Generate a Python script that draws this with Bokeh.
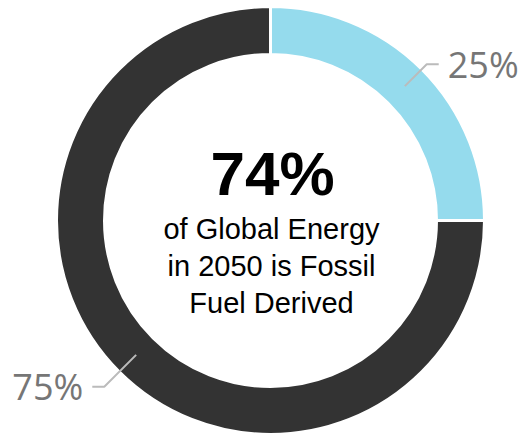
import math
from bokeh.plotting import figure
from bokeh.models import Range1d, ColumnDataSource
from bokeh.core.properties import value
from bokeh.embed import file_html
from bokeh.resources import INLINE

# ---- data ----
categories = ["Non-fossil", "Fossil"]
shares = [25, 75]
slice_labels = ["25%", "75%"]
slice_colors = ["#95DBED", "#333333"]
headline = "74%"
caption_lines = ["of Global Energy", "in 2050 is Fossil", "Fuel Derived"]

# ---- layout constants ----
W, H = 523, 436
CX, CY = 270, 436 - 220
R_OUT, R_IN = 214, 166

p = figure(width=W, height=H, output_backend="svg", toolbar_location=None,
           x_range=Range1d(0, W), y_range=Range1d(0, H), min_border=0)
p.axis.visible = False
p.xgrid.visible = False
p.ygrid.visible = False
p.outline_line_color = None
p.background_fill_color = "white"

# slices start at 12 o'clock, clockwise
total = sum(shares)
starts, ends, mids = [], [], []
a = math.pi / 2
for s in shares:
    sweep = 2 * math.pi * s / total
    starts.append(a)
    ends.append(a - sweep)
    mids.append(a - sweep / 2)
    a -= sweep

src = ColumnDataSource(dict(x=[CX] * len(shares), y=[CY] * len(shares),
                            start=starts, end=ends, color=slice_colors))
p.annular_wedge(x="x", y="y", inner_radius=R_IN, outer_radius=R_OUT,
                start_angle="start", end_angle="end", direction="clock",
                fill_color="color", line_color="white", line_width=3, source=src)

# leader lines and labels
R_A, R_B, HOOK, GAP = 190, 228, 12, 9
BX, BY = -5, -5   # small shift of the elbow point
for m, lab in zip(mids, slice_labels):
    x0, y0 = CX + R_A * math.cos(m), CY + R_A * math.sin(m)
    x1, y1 = CX + R_B * math.cos(m) + BX, CY + R_B * math.sin(m) + BY
    sgn = 1 if math.cos(m) >= 0 else -1
    x2 = x1 + sgn * HOOK
    p.line([x0, x1, x2], [y0, y1, y1], line_color="#BBBBBB", line_width=2)
    p.text(x=[x2 + sgn * GAP], y=[y1], text=[lab],
           text_align="left" if sgn > 0 else "right", text_baseline="middle",
           text_font=value("Open Sans"), text_font_size="36px", text_color="#767676")

# centre text
p.text(x=[CX + 2], y=[CY + 47], text=[headline], text_align="center",
       text_baseline="middle", text_font=value("Liberation Sans"),
       text_font_style="bold", text_font_size="62px", text_color="black")
line_gap = 37
for i, t in enumerate(caption_lines):
    p.text(x=[CX + 1], y=[CY - 8 - i * line_gap], text=[t], text_align="center",
           text_baseline="middle", text_font=value("Liberation Sans"),
           text_font_size="29px", text_color="black")

open("out.html", "w").write(file_html(p, INLINE))
